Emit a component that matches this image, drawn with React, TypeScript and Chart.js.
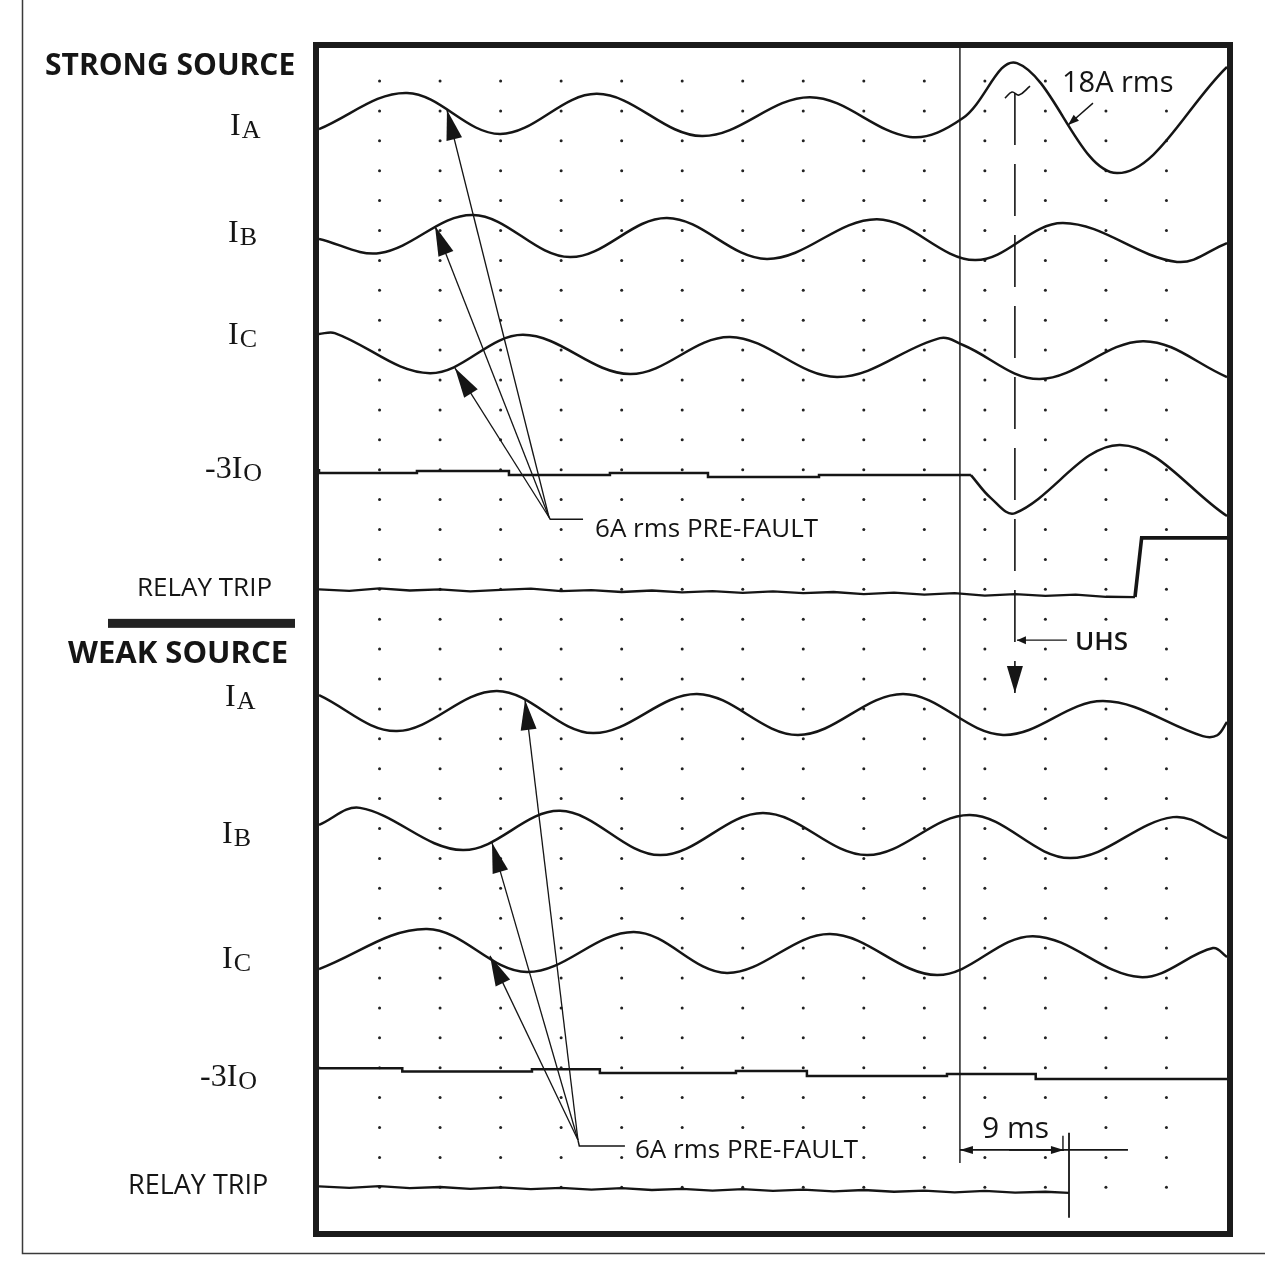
import React, { useEffect, useRef } from "react";
import { Chart, registerables } from "chart.js";

Chart.register(...registerables);

// ---- axes: time in ms (one grid division = 5 ms), vertical in grid rows (row 0 = top dot row)
const timeTicks = [5, 10, 15, 20, 25, 30, 35, 40, 45, 50, 55, 60, 65, 70];
const gridRows = Array.from({ length: 38 }, (_, i) => i);
const T_MIN = 0;
const T_MAX = 75;
const ROW_TOP = -1.104;
const ROW_BOTTOM = 38.462;

// ---- STRONG SOURCE traces (time ms, row)
const sIA_t = [0, 7.27, 14.95, 22.96, 31.63, 40.55, 48.81, 53.19, 57.65, 65.91, 75];
const sIA_v = [1.61, 0.4, 1.77, 0.43, 1.84, 0.54, 1.87, 1.24, -0.6, 3.08, -0.47];

const sIB_t = [0, 5.04, 12.72, 20.73, 28.74, 37.0, 46.09, 54.18, 61.45, 70.87, 75];
const sIB_v = [5.28, 5.75, 4.48, 5.89, 4.58, 5.95, 4.62, 5.99, 4.75, 6.05, 5.42];

const sIC_t = [0, 1.3, 9.17, 16.85, 25.69, 33.95, 42.79, 51.29, 53.19, 59.55, 68.06, 75];
const sIC_v = [8.46, 8.43, 9.77, 8.49, 9.8, 8.56, 9.9, 8.6, 8.83, 9.97, 8.7, 9.9];

const sI0pre_t = [0, 8.09, 15.69, 24.03, 32.13, 41.3, 49.65, 53.85];
const sI0pre_v = [12.98, 13.11, 13.04, 13.18, 13.11, 13.24, 13.18, 13.18];
const sI0flt_t = [53.85, 55.5, 57.5, 66.16, 75];
const sI0flt_v = [13.18, 13.95, 14.45, 12.17, 14.55];

const sTrip_t = [0, 2.5, 5, 7.5, 10, 12.5, 15, 17.5, 20, 22.5, 25, 27.5, 30, 32.5, 35, 37.5, 40, 42.5, 45, 47.5, 50, 52.5, 55, 57.5, 60, 62.5, 65, 67.4];
const sTrip_v = [17.0, 17.05, 16.97, 17.04, 17.0, 17.07, 17.02, 16.98, 17.06, 17.03, 17.09, 17.04, 17.1, 17.06, 17.12, 17.07, 17.13, 17.09, 17.16, 17.11, 17.18, 17.13, 17.21, 17.16, 17.22, 17.18, 17.25, 17.26];
const sTripStep_t = [67.4, 67.95, 75];
const sTripStep_v = [17.26, 15.28, 15.28];

// ---- WEAK SOURCE traces
const wIA_t = [0, 6.44, 14.7, 22.63, 31.22, 39.56, 48.24, 56.5, 64.76, 73.0, 74.2, 75];
const wIA_v = [20.54, 21.74, 20.4, 21.81, 20.5, 21.87, 20.5, 21.87, 20.74, 21.91, 21.88, 21.44];

const wIB_t = [0, 3.39, 11.89, 19.91, 28.17, 36.67, 45.26, 53.77, 62.03, 70.54, 75];
const wIB_v = [24.88, 24.31, 25.72, 24.41, 25.89, 24.48, 25.89, 24.55, 25.99, 24.62, 25.32];

const wIC_t = [0, 8.92, 17.18, 26.0, 33.7, 42.21, 51.05, 58.97, 67.81, 73.84, 75];
const wIC_v = [29.7, 28.36, 29.8, 28.46, 29.83, 28.53, 29.9, 28.6, 29.97, 29.0, 29.3];

const wI0_t = [0, 6.88, 17.59, 23.2, 34.44, 40.3, 51.87, 59.2, 69.7, 75];
const wI0_v = [32.97, 33.02, 33.13, 33.05, 33.18, 33.11, 33.28, 33.21, 33.38, 33.38];

const wTrip_t = [0, 2.5, 5, 7.5, 10, 12.5, 15, 17.5, 20, 22.5, 25, 27.5, 30, 32.5, 35, 37.5, 40, 42.5, 45, 47.5, 50, 52.5, 55, 57.5, 60, 61.95];
const wTrip_v = [36.97, 37.02, 36.96, 37.03, 36.99, 37.05, 37.0, 37.06, 37.02, 37.08, 37.03, 37.09, 37.05, 37.11, 37.06, 37.12, 37.08, 37.14, 37.09, 37.15, 37.11, 37.17, 37.12, 37.18, 37.15, 37.19];

// ---- markers / annotations (time ms, row)
const faultLine_t = [52.94, 52.94];
const faultLine_v = [-1.104, 36.19];
const weakTripMark_t = [61.95, 61.95];
const weakTripMark_v = [35.18, 38.02];
const tick9_t = [61.45, 61.45];
const tick9_v = [35.28, 35.79];

const uhsDash_t = [57.48, 57.48];
const uhsDash_v = [0.4, 20.47];
const uhsHook_t = [56.66, 57.24, 57.82, 58.73];
const uhsHook_v = [0.57, 0.37, 0.47, 0.17];
const uhsLeader_t = [61.78, 57.65];
const uhsLeader_v = [18.7, 18.7];
const rms18Leader_t = [63.93, 61.87];
const rms18Leader_v = [0.74, 1.47];
const ms9Left_t = [66.82, 52.94];
const ms9Left_v = [35.75, 35.75];
const ms9Right_t = [57.0, 61.53];
const ms9Right_v = [35.75, 35.75];

// pre-fault pointers: convergence point, then tips on IA, IB, IC
const sPre_t = [19.0, 10.57, 9.58, 11.23];
const sPre_v = [14.59, 0.97, 4.85, 9.6];
const sPreLeader_t = [19.0, 19.1, 21.81];
const sPreLeader_v = [14.59, 14.66, 14.66];
const wPre_t = [21.39, 17.02, 14.29, 14.12];
const wPre_v = [35.42, 20.7, 25.48, 29.26];
const wPreLeader_t = [21.39, 21.5, 25.27];
const wPreLeader_v = [35.42, 35.62, 35.62];

// ---- texts
const chartTexts = [
  { text: "18A rms", t: 61.37, r: 0.37, size: 29, weight: "normal" },
  { text: "UHS", t: 62.44, r: 19.03, size: 26, weight: "600" },
  { text: "6A rms PRE-FAULT", t: 22.8, r: 15.25, size: 26, weight: "normal" },
  { text: "6A rms PRE-FAULT", t: 26.1, r: 36.02, size: 26, weight: "normal" },
  { text: "9 ms", t: 54.76, r: 35.35, size: 30, weight: "normal" },
];
const headings = [
  { text: "STRONG SOURCE", x: 45, r: -0.2, size: 30 },
  { text: "WEAK SOURCE", x: 68, r: 19.46, size: 31 },
];
const tripLabels = [
  { text: "RELAY TRIP", x: 137, r: 17.22, size: 26 },
  { text: "RELAY TRIP", x: 128, r: 37.22, size: 27 },
];
const channelLabels = [
  { main: "I", sub: "A", x: 230, r: 1.81 },
  { main: "I", sub: "B", x: 228, r: 5.38 },
  { main: "I", sub: "C", x: 228, r: 8.8 },
  { main: "-3I", sub: "O", x: 205, r: 13.28 },
  { main: "I", sub: "A", x: 225, r: 20.9 },
  { main: "I", sub: "B", x: 222, r: 25.48 },
  { main: "I", sub: "C", x: 222, r: 29.67 },
  { main: "-3I", sub: "O", x: 200, r: 33.61 },
];

const INK = "#151515";
const pts = (t: number[], v: number[]) => t.map((x, i) => ({ x, y: v[i] }));

function trace(t: number[], v: number[], extra: any = {}) {
  return {
    data: pts(t, v),
    borderColor: INK,
    borderWidth: 2.5,
    tension: 0.36,
    pointRadius: 0,
    fill: false,
    ...extra,
  };
}

function drawHead(ctx: CanvasRenderingContext2D, a: any, b: any, len: number, half: number) {
  const ang = Math.atan2(b.y - a.y, b.x - a.x);
  const bx = b.x - len * Math.cos(ang);
  const by = b.y - len * Math.sin(ang);
  const nx = -Math.sin(ang) * half;
  const ny = Math.cos(ang) * half;
  ctx.beginPath();
  ctx.moveTo(b.x, b.y);
  ctx.lineTo(bx + nx, by + ny);
  ctx.lineTo(bx - nx, by - ny);
  ctx.closePath();
  ctx.fill();
}

const decorPlugin = {
  id: "oscilloDecor",
  beforeDatasetsDraw(chart: any) {
    const { ctx } = chart;
    const xs = chart.scales.x;
    const ys = chart.scales.y;
    ctx.save();
    ctx.fillStyle = "#222";
    for (const t of timeTicks) {
      for (const r of gridRows) {
        ctx.beginPath();
        ctx.arc(xs.getPixelForValue(t), ys.getPixelForValue(r), 1.5, 0, Math.PI * 2);
        ctx.fill();
      }
    }
    ctx.restore();
  },
  afterDatasetsDraw(chart: any) {
    const { ctx, chartArea } = chart;
    const xs = chart.scales.x;
    const ys = chart.scales.y;
    ctx.save();
    ctx.fillStyle = INK;
    // arrowheads
    chart.data.datasets.forEach((ds: any, i: number) => {
      const meta = chart.getDatasetMeta(i);
      if (ds.head) {
        const n = meta.data.length;
        drawHead(ctx, meta.data[n - 2], meta.data[n - 1], ds.head.len, ds.head.half);
      }
    });
    // in-chart texts
    ctx.textBaseline = "alphabetic";
    for (const tx of chartTexts) {
      ctx.font = `${tx.weight} ${tx.size}px "Open Sans"`;
      const px = xs.getPixelForValue(tx.t);
      const py = ys.getPixelForValue(tx.r);
      const w = ctx.measureText(tx.text).width;
      ctx.fillStyle = "#fff";
      ctx.fillRect(px - 3, py - tx.size * 0.78, w + 6, tx.size * 0.95);
      ctx.fillStyle = INK;
      ctx.fillText(tx.text, px, py);
    }
    // frame of the record
    ctx.strokeStyle = "#1b1b1b";
    ctx.lineWidth = 6;
    ctx.strokeRect(chartArea.left - 3, chartArea.top - 3, chartArea.right - chartArea.left + 6, chartArea.bottom - chartArea.top + 6);
    // left labels
    ctx.fillStyle = INK;
    for (const h of headings) {
      ctx.font = `bold ${h.size}px "Open Sans"`;
      ctx.fillText(h.text, h.x, ys.getPixelForValue(h.r));
    }
    for (const l of tripLabels) {
      ctx.font = `normal ${l.size}px "Open Sans"`;
      ctx.fillText(l.text, l.x, ys.getPixelForValue(l.r));
    }
    for (const l of channelLabels) {
      const py = ys.getPixelForValue(l.r);
      ctx.font = `32px "Liberation Serif"`;
      ctx.fillText(l.main, l.x, py);
      const w = ctx.measureText(l.main).width;
      ctx.font = `26px "Liberation Serif"`;
      ctx.fillText(l.sub, l.x + w + 1, py + 3);
    }
    // bar above WEAK SOURCE and page rules
    const weakY = ys.getPixelForValue(headings[1].r);
    ctx.fillStyle = "#222";
    ctx.fillRect(108, weakY - 44, 187, 9);
    ctx.strokeStyle = "#3a3a3a";
    ctx.lineWidth = 1.5;
    ctx.beginPath();
    ctx.moveTo(22.5, 0);
    ctx.lineTo(22.5, 1253.5);
    ctx.lineTo(1265, 1253.5);
    ctx.stroke();
    ctx.restore();
  },
};

export default function App() {
  const ref = useRef<HTMLCanvasElement | null>(null);
  useEffect(() => {
    if (!ref.current) return;
    const thin = { borderWidth: 1.4, tension: 0 };
    const datasets: any[] = [
      trace(sIA_t, sIA_v),
      trace(sIB_t, sIB_v),
      trace(sIC_t, sIC_v),
      trace(sI0pre_t, sI0pre_v, { stepped: "after", tension: 0 }),
      trace(sI0flt_t, sI0flt_v),
      trace(sTrip_t, sTrip_v, { tension: 0, borderWidth: 2.3 }),
      trace(sTripStep_t, sTripStep_v, { tension: 0, borderWidth: 3.6 }),
      trace(wIA_t, wIA_v),
      trace(wIB_t, wIB_v),
      trace(wIC_t, wIC_v),
      trace(wI0_t, wI0_v, { stepped: "after", tension: 0 }),
      trace(wTrip_t, wTrip_v, { tension: 0, borderWidth: 2.3 }),
      trace(faultLine_t, faultLine_v, thin),
      trace(weakTripMark_t, weakTripMark_v, { ...thin, borderWidth: 1.8 }),
      trace(tick9_t, tick9_v, thin),
      trace(uhsDash_t, uhsDash_v, { ...thin, borderWidth: 1.6, borderDash: [52, 19], head: { len: 27, half: 8 } }),
      trace(uhsHook_t, uhsHook_v, { borderWidth: 1.6, tension: 0.4 }),
      trace(uhsLeader_t, uhsLeader_v, { ...thin, head: { len: 9, half: 4 } }),
      trace(rms18Leader_t, rms18Leader_v, { ...thin, head: { len: 11, half: 4 } }),
      trace(ms9Left_t, ms9Left_v, { ...thin, borderWidth: 1.8, head: { len: 13, half: 4 } }),
      trace(ms9Right_t, ms9Right_v, { ...thin, borderWidth: 1.8, head: { len: 13, half: 4 } }),
    ];
    // pre-fault pointers: one line from the common origin to each tip
    const pointerSets = [
      { t: sPre_t, v: sPre_v, lt: sPreLeader_t, lv: sPreLeader_v },
      { t: wPre_t, v: wPre_v, lt: wPreLeader_t, lv: wPreLeader_v },
    ];
    for (const p of pointerSets) {
      for (let k = 1; k < p.t.length; k++) {
        datasets.push(
          trace([p.t[0], p.t[k]], [p.v[0], p.v[k]], { ...thin, borderWidth: 1.3, head: { len: 30, half: 8 } })
        );
      }
      datasets.push(trace(p.lt, p.lv, { ...thin, borderWidth: 1.5 }));
    }

    const chart = new Chart(ref.current, {
      type: "line",
      data: { datasets },
      options: {
        animation: false,
        responsive: false,
        devicePixelRatio: 1,
        events: [],
        layout: { padding: { left: 319, right: 38, top: 48, bottom: 33 } },
        plugins: { legend: { display: false }, tooltip: { enabled: false } },
        elements: { point: { radius: 0 } },
        scales: {
          x: { type: "linear", min: T_MIN, max: T_MAX, display: false },
          y: { type: "linear", min: ROW_TOP, max: ROW_BOTTOM, reverse: true, display: false },
        },
      } as any,
      plugins: [decorPlugin as any],
    });
    return () => chart.destroy();
  }, []);

  return (
    <div style={{ position: "absolute", left: 0, top: 0, width: 1265, height: 1264, background: "#fff", overflow: "hidden" }}>
      <canvas ref={ref} width={1265} height={1264} style={{ display: "block" }} />
    </div>
  );
}
